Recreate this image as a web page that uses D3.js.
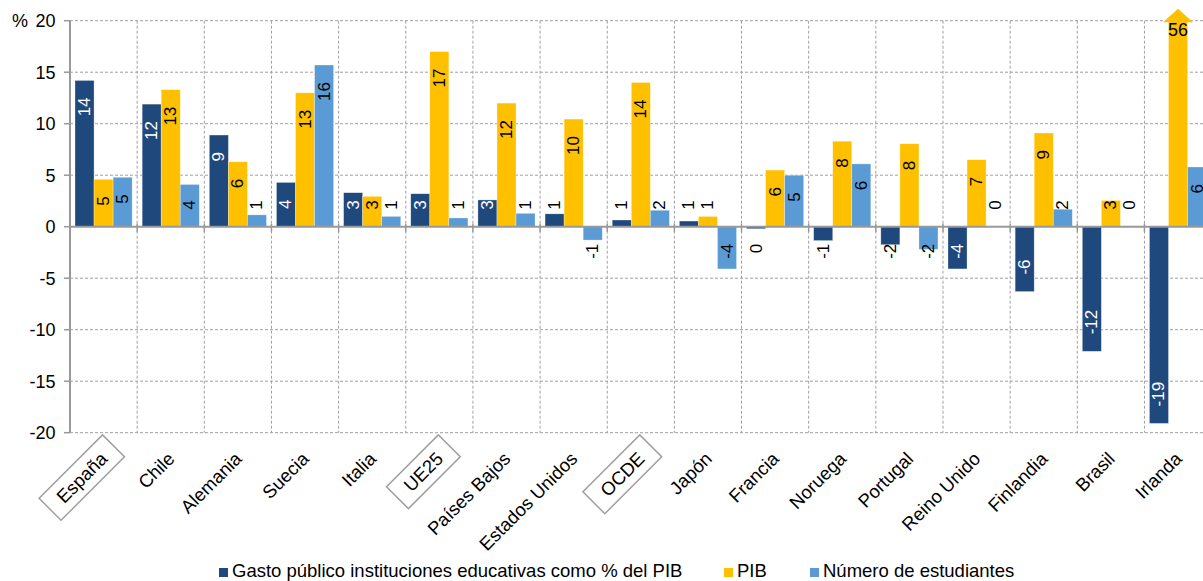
<!DOCTYPE html>
<html>
<head>
<meta charset="utf-8">
<script src="https://cdn.jsdelivr.net/npm/d3@7"></script>
<style>
  html, body { margin: 0; padding: 0; background: #fff; }
  svg { display: block; font-family: "Liberation Sans", Arial, sans-serif; }
</style>
</head>
<body>
<svg id="chart" width="1203" height="581"></svg>
<script>
const categories = ["España","Chile","Alemania","Suecia","Italia","UE25","Países Bajos","Estados Unidos","OCDE","Japón","Francia","Noruega","Portugal","Reino Unido","Finlandia","Brasil","Irlanda"];
const gasto       = [14.2, 11.9, 8.9, 4.3, 3.3, 3.2, 2.6, 1.25, 0.65, 0.55, -0.2, -1.35, -1.75, -4.1, -6.3, -12.1, -19.1];
const pib         = [4.6, 13.3, 6.3, 13.0, 2.95, 17.0, 12.0, 10.45, 14.0, 1.0, 5.5, 8.3, 8.05, 6.5, 9.1, 2.55, 56];
const estudiantes = [4.8, 4.1, 1.15, 15.7, 1.0, 0.85, 1.3, -1.3, 1.6, -4.1, 5.0, 6.1, -2.2, 0, 1.7, 0, 5.8];
const seriesNames = ["Gasto público instituciones educativas como % del PIB", "PIB", "Número de estudiantes"];
const seriesColors = ["#1F497D", "#FFC000", "#5B9BD5"];
const boxedCategories = ["España", "UE25", "OCDE"];
const yTicks = [-20, -15, -10, -5, 0, 5, 10, 15, 20];
const yUnit = "%";

(function () {
const seriesValues = [gasto, pib, estudiantes];
const svg = d3.select("#chart");
const pLeft = 70, pRight = 1211.6, pTop = 20.7, pBottom = 432.7;
const FS = 17, FSB = 18.5;

const x0 = d3.scaleBand().domain(categories).range([pLeft, pRight]).paddingInner(0).paddingOuter(0);
const bw = x0.bandwidth();
const x1 = d3.scaleBand().domain(seriesNames).range([5, bw - 5]).padding(0);
const y = d3.scaleLinear().domain([-20, 20]).range([pBottom, pTop]);

// grid
const grid = svg.append("g");
grid.selectAll("line.h").data(yTicks.filter(t => t !== 0)).join("line")
  .attr("x1", pLeft).attr("x2", 1203).attr("y1", d => y(d)).attr("y2", d => y(d))
  .attr("stroke", "#a0a0a0").attr("stroke-width", 1).attr("stroke-dasharray", "3,2");
grid.selectAll("line.v").data(categories).join("line")
  .attr("x1", (d, i) => pLeft + (i + 1) * bw).attr("x2", (d, i) => pLeft + (i + 1) * bw)
  .attr("y1", pTop).attr("y2", pBottom)
  .attr("stroke", "#a0a0a0").attr("stroke-width", 1).attr("stroke-dasharray", "3,2");

// bars
const barsData = [];
categories.forEach((c, i) => {
  seriesNames.forEach((s, k) => {
    barsData.push({ cat: c, series: s, k: k, v: seriesValues[k][i] });
  });
});
const g = svg.append("g");
g.selectAll("rect").data(barsData).join("rect")
  .attr("x", d => x0(d.cat) + x1(d.series))
  .attr("width", x1.bandwidth())
  .attr("y", d => y(Math.min(Math.max(d.v, 0), 20)))
  .attr("height", d => Math.abs(y(Math.max(Math.min(d.v, 20), -20)) - y(0)))
  .attr("fill", d => seriesColors[d.k])
  .attr("stroke", "rgba(255,255,255,0.5)").attr("stroke-width", 0.6);

// overflow arrow
const over = barsData.filter(d => d.v > 20);
g.selectAll("path.arrow").data(over).join("path")
  .attr("d", d => {
    const cx = x0(d.cat) + x1(d.series) + x1.bandwidth() / 2;
    const by = y(20) + 1.5;
    return `M${cx - 15},${by} L${cx},${by - 13.5} L${cx + 15},${by} Z`;
  })
  .attr("fill", "#FFC000");

// axes lines
svg.append("line").attr("x1", pLeft).attr("x2", 1203).attr("y1", y(0)).attr("y2", y(0))
  .attr("stroke", "#999").attr("stroke-width", 2);
svg.append("line").attr("x1", pLeft).attr("x2", pLeft).attr("y1", pTop).attr("y2", pBottom)
  .attr("stroke", "#999").attr("stroke-width", 2);
svg.selectAll("line.yt").data(yTicks).join("line")
  .attr("x1", pLeft - 6).attr("x2", pLeft).attr("y1", d => y(d)).attr("y2", d => y(d))
  .attr("stroke", "#999").attr("stroke-width", 1.5);
svg.selectAll("line.xt").data(categories).join("line")
  .attr("x1", (d, i) => pLeft + (i + 1) * bw).attr("x2", (d, i) => pLeft + (i + 1) * bw)
  .attr("y1", y(0) - 3).attr("y2", y(0) + 5)
  .attr("stroke", "#999").attr("stroke-width", 1.5);

// y tick labels
svg.selectAll("text.ytl").data(yTicks).join("text")
  .attr("x", 55.5).attr("y", d => y(d)).attr("dy", "0.35em")
  .attr("text-anchor", "end").attr("font-size", 18).attr("fill", "#000")
  .text(d => String(d));
svg.append("text").attr("x", 12).attr("y", y(20)).attr("dy", "0.35em")
  .attr("font-size", 18).attr("fill", "#000").text(yUnit);

// value labels
const lab = svg.append("g");
barsData.forEach(d => {
  const cx = x0(d.cat) + x1(d.series) + x1.bandwidth() / 2;
  const txt = String(Math.round(d.v));
  if (d.v > 20) {
    lab.append("text").attr("x", cx).attr("y", y(20) + 15.5)
      .attr("text-anchor", "middle").attr("font-size", 18).attr("fill", "#000").text(txt);
    return;
  }
  const t = lab.append("text").attr("text-anchor", "middle").attr("dominant-baseline", "central")
    .attr("font-size", FS).text(txt);
  const tl = t.node().getComputedTextLength();
  const L = tl + 34;
  const h = Math.abs(y(d.v) - y(0));
  const sgn = d.v >= 0 ? 1 : -1;
  let cy;
  if (h >= L) cy = y(d.v) + sgn * L / 2;
  else cy = y(0) - sgn * L / 2;
  const inside = h >= (Math.abs(cy - y(0)) + tl / 2) - 1;
  const fill = (d.k === 0 && inside) ? "#fff" : "#000";
  t.attr("fill", fill).attr("transform", `translate(${cx},${cy}) rotate(-90)`);
});

// category labels
const cl = svg.append("g");
categories.forEach(c => {
  const cx = x0(c) + bw / 2;
  const gg = cl.append("g").attr("transform", `translate(${cx + 5},${460}) rotate(-45)`);
  const t = gg.append("text").attr("text-anchor", "end").attr("font-size", FSB).attr("fill", "#000").text(c);
  if (boxedCategories.includes(c)) {
    const w = t.node().getComputedTextLength();
    gg.insert("rect", "text").attr("x", -w - 13.5).attr("y", -22)
      .attr("width", w + 27).attr("height", 31)
      .attr("fill", "#fff").attr("stroke", "#a0a0a0").attr("stroke-width", 1.5);
  }
});

// legend
const legendX = [219, 724, 810];
const leg = svg.append("g");
seriesNames.forEach((s, k) => {
  leg.append("rect").attr("x", legendX[k]).attr("y", 568).attr("width", 9).attr("height", 9).attr("fill", seriesColors[k]);
  leg.append("text").attr("x", legendX[k] + 13).attr("y", 577).attr("font-size", FSB).attr("fill", "#000").text(s);
});
})();
</script>
</body>
</html>
